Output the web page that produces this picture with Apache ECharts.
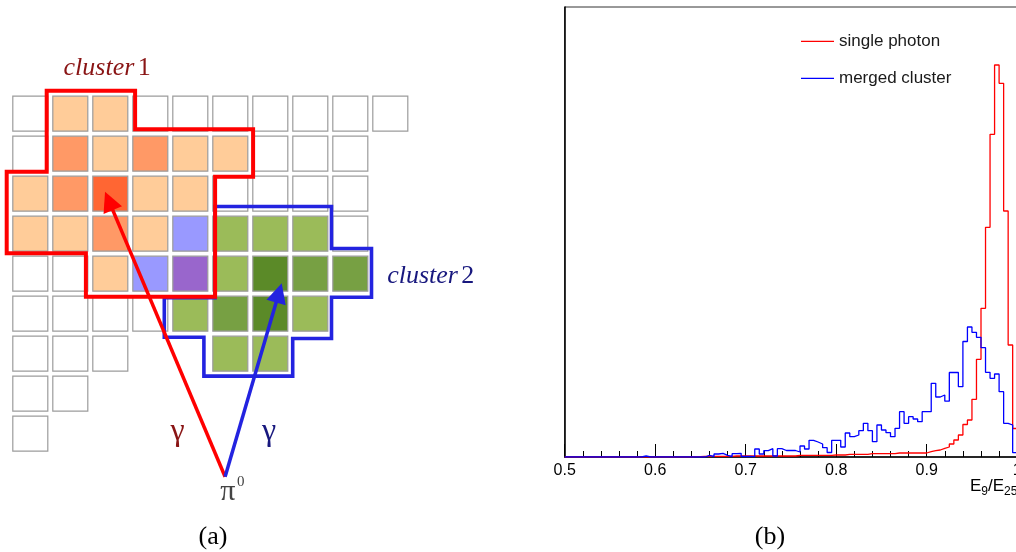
<!DOCTYPE html>
<html>
<head>
<meta charset="utf-8">
<script src="https://cdn.jsdelivr.net/npm/echarts@6/dist/echarts.min.js"></script>
<style>
html,body{margin:0;padding:0;background:#fff;}
#main{width:1016px;height:552px;}
</style>
</head>
<body>
<div id="main"></div>
<script>
// ---------------- Data: histogram (b) ----------------
const binLow = 0.5;
const binWidth = 0.005;
const xTickLabels = ['0.5', '0.6', '0.7', '0.8', '0.9', '1'];
const seriesNames = ['single photon', 'merged cluster'];
const singlePhoton = [
  0, 0, 0, 0, 0, 0, 0, 0, 0, 0,
  0, 0, 0, 0, 0, 0, 0, 0, 0, 0,
  0, 0, 0, 0, 0, 0, 0, 0, 0.3, 0.3,
  0.7, 0.7, 0.7, 0.7, 0.7, 0.7, 0.7, 1, 1, 1,
  1, 1, 1, 1, 1, 1, 1, 1, 1, 1,
  1, 1.7, 1.7, 1.7, 1.7, 1.7, 1.7, 1.7, 1.7, 2,
  2, 2, 2.7, 2.7, 2.7, 2.7, 2.7, 3.3, 3.3, 3.3,
  3.3, 3.3, 3.3, 4, 4, 4, 4, 4, 4, 4,
  5.3, 6.3, 7, 8.7, 10, 13, 17, 22, 32.5, 37,
  57.7, 97.7, 148.7, 229.7, 322.7, 392, 373.7, 246, 112, 28.5
];
const mergedCluster = [
  0, 0, 0, 0, 0, 0, 0, 0, 0, 0,
  0, 0, 0, 0, 0, 0, 0, 1, 0, 0,
  0, 0, 0, 0, 0, 0, 0, 0, 0, 0,
  0, 1.7, 0.5, 3, 3.7, 1.7, 0.5, 3.3, 3.7, 0.5,
  0.5, 0.3, 8, 3, 6.3, 8.3, 1, 8.3, 6.5, 6.5,
  6.5, 5, 11, 8, 16.7, 15, 13, 9.3, 4.5, 16.7,
  16.7, 10, 24, 20.3, 22, 26.3, 33.7, 26.3, 15.3, 32,
  27, 24.3, 20.3, 28.7, 45.3, 33.7, 40.3, 38, 35.3, 45.3,
  45.3, 73.7, 60, 62, 55.8, 84.5, 84.5, 70.3, 115.5, 130,
  124.7, 119.7, 109.3, 84.7, 78.7, 83, 65.3, 33.7, 32, 4.3
];

// ---------------- Data: diagram (a), in cell units [col, row] ----------------
const emptyCells = [[0,0],[3,0],[4,0],[5,0],[6,0],[7,0],[8,0],[9,0],
  [0,1],[6,1],[7,1],[8,1],[5,2],[6,2],[7,2],[8,2],[8,3],
  [0,4],[1,4],[0,5],[1,5],[2,5],[3,5],[0,6],[1,6],[2,6],[0,7],[1,7],[0,8]];
const peachCells = [[1,0],[2,0],[2,1],[4,1],[5,1],[0,2],[3,2],[4,2],[0,3],[1,3],[3,3],[2,4]];
const orangeCells = [[1,1],[3,1],[1,2],[2,3]];
const hotCells = [[2,2]];
const lightBlueCells = [[4,3],[3,4]];
const purpleCells = [[4,4]];
const lightGreenCells = [[5,3],[6,3],[7,3],[5,4],[4,5],[7,5],[5,6],[6,6]];
const midGreenCells = [[7,4],[8,4],[5,5]];
const darkGreenCells = [[6,4],[6,5]];
const cluster1Outline = [[0.91,-0.075],[3.12,-0.075],[3.12,0.89],[6.07,0.89],[6.07,2.075],[5.12,2.075],
  [5.12,5.075],[1.89,5.075],[1.89,3.99],[-0.09,3.99],[-0.09,1.95],[0.91,1.95],[0.91,-0.075]];
const cluster2Outline = [[5.12,2.82],[8.03,2.82],[8.03,3.87],[9.03,3.87],[9.03,5.09],[8.03,5.09],
  [8.03,6.12],[7.06,6.12],[7.06,7.06],[4.84,7.06],[4.84,6.09],[3.85,6.09],[3.85,5.1],[5.12,5.1],[5.12,2.82]];
const photon1 = [[5.37,9.575],[2.465,2.68]];
const photon2 = [[5.37,9.575],[6.715,4.98]];
const diagramTexts = ['cluster', '1', 'cluster', '2', 'γ', 'γ', 'π', '0'];

// ---------------- Build ----------------
function stepData(counts) {
  const d = counts.map((c, k) => [binLow + k * binWidth, c]);
  d.push([binLow + counts.length * binWidth, counts[counts.length - 1]]);
  return d;
}
function cellSeries(cells, color) {
  return {
    type: 'scatter', xAxisIndex: 0, yAxisIndex: 0, symbol: 'rect', symbolSize: 35,
    silent: true, z: 2,
    itemStyle: { color: color, borderColor: '#9c9c9c', borderWidth: 1.2, opacity: 1 },
    emphasis: { disabled: true },
    data: cells.map(c => [c[0] + 0.5, c[1] + 0.5])
  };
}
const serif = '"Liberation Serif", "DejaVu Serif", serif';
const sans = '"Liberation Sans", Arial, sans-serif';
const darkRed = '#8a1515';
const darkBlue = '#18187e';

const textPoints = [
  { value: [2.42, -0.63], label: { formatter: '{i|' + diagramTexts[0] + '} {n|' + diagramTexts[1] + '}', color: darkRed } },
  { value: [10.51, 4.56], label: { formatter: '{i|' + diagramTexts[2] + '} {n|' + diagramTexts[3] + '}', color: darkBlue } },
  { value: [4.18, 8.45], label: { formatter: '{g|' + diagramTexts[4] + '}', color: darkRed } },
  { value: [6.47, 8.45], label: { formatter: '{g|' + diagramTexts[5] + '}', color: darkBlue } },
  { value: [5.44, 9.96], label: { formatter: '{p|' + diagramTexts[6] + '}', color: '#444' } },
  { value: [5.76, 9.70], label: { formatter: '{s|' + diagramTexts[7] + '}', color: '#444' } }
];

const chart = echarts.init(document.getElementById('main'), null, { renderer: 'canvas' });
const option = {
  animation: false,
  backgroundColor: '#fff',
  grid: [
    { left: 0.3, top: 33.7, width: 480, height: 480, show: false, containLabel: false, outerBoundsMode: 'none' },
    { left: 564.7, top: 7, width: 452.5, height: 450, show: true, borderColor: '#333', borderWidth: 1,
      backgroundColor: 'transparent', containLabel: false, outerBoundsMode: 'none' }
  ],
  xAxis: [
    { gridIndex: 0, type: 'value', min: -0.25, max: 11.75, show: false },
    { gridIndex: 1, type: 'value', min: 0.5, max: 1.0, interval: 0.1,
      axisLine: { show: true, onZero: false, lineStyle: { color: '#000', width: 1.5 } },
      axisTick: { show: true, inside: true, length: 13, lineStyle: { color: '#000', width: 1 } },
      minorTick: { show: true, splitNumber: 5, length: 6, lineStyle: { color: '#000', width: 1 } },
      axisLabel: { show: true, margin: 6, fontSize: 16, fontFamily: sans, color: '#000', hideOverlap: false,
        formatter: function (v) { return xTickLabels[Math.round((v - 0.5) / 0.1)]; } },
      splitLine: { show: false }, minorSplitLine: { show: false }
    }
  ],
  yAxis: [
    { gridIndex: 0, type: 'value', min: -1.5, max: 10.5, inverse: true, show: false },
    { gridIndex: 1, type: 'value', min: 0, max: 450,
      axisLine: { show: true, lineStyle: { color: '#000', width: 1.5 } },
      axisTick: { show: false }, axisLabel: { show: false }, splitLine: { show: false } }
  ],
  legend: {
    data: seriesNames, orient: 'vertical', left: 801, top: 31.3, padding: 0,
    icon: 'rect', itemWidth: 33, itemHeight: 1.3, itemGap: 17,
    textStyle: { fontSize: 17, fontFamily: sans, color: '#1a1a1a', lineHeight: 20 },
    selectedMode: false
  },
  series: [
    cellSeries(emptyCells, '#ffffff'),
    cellSeries(peachCells, '#ffcc99'),
    cellSeries(orangeCells, '#ff9966'),
    cellSeries(hotCells, '#ff6633'),
    cellSeries(lightBlueCells, '#9999ff'),
    cellSeries(purpleCells, '#9966cc'),
    cellSeries(lightGreenCells, '#9bbb59'),
    cellSeries(midGreenCells, '#77a043'),
    cellSeries(darkGreenCells, '#5b8a28'),
    { type: 'line', xAxisIndex: 0, yAxisIndex: 0, data: cluster2Outline, symbol: 'none', silent: true, z: 4,
      lineStyle: { color: '#2323e0', width: 3.6, join: 'miter', cap: 'square' } },
    { type: 'line', xAxisIndex: 0, yAxisIndex: 0, data: cluster1Outline, symbol: 'none', silent: true, z: 5,
      lineStyle: { color: '#ff0000', width: 4, join: 'miter', cap: 'square' } },
    { type: 'lines', coordinateSystem: 'cartesian2d', xAxisIndex: 0, yAxisIndex: 0, silent: true, z: 6,
      symbol: ['none', 'triangle'], symbolSize: 20,
      lineStyle: { color: '#ff0000', width: 3.5, opacity: 1, curveness: 0 },
      data: [{ coords: photon1 }] },
    { type: 'lines', coordinateSystem: 'cartesian2d', xAxisIndex: 0, yAxisIndex: 0, silent: true, z: 6,
      symbol: ['none', 'triangle'], symbolSize: 20,
      lineStyle: { color: '#2323e0', width: 3.5, opacity: 1, curveness: 0 },
      data: [{ coords: photon2 }] },
    { type: 'scatter', xAxisIndex: 0, yAxisIndex: 0, symbol: 'circle', symbolSize: 1, silent: true, z: 7,
      itemStyle: { color: 'rgba(0,0,0,0)' },
      label: { show: true, position: 'inside', opacity: 1,
        rich: {
          i: { fontFamily: serif, fontStyle: 'italic', fontSize: 26 },
          n: { fontFamily: serif, fontSize: 26 },
          g: { fontFamily: serif, fontSize: 32 },
          p: { fontFamily: serif, fontSize: 30 },
          s: { fontFamily: serif, fontSize: 15 }
        } },
      data: textPoints },
    { name: seriesNames[0], type: 'line', xAxisIndex: 1, yAxisIndex: 1, step: 'end', symbol: 'none', showSymbol: false,
      z: 3, lineStyle: { color: '#ff0000', width: 1.3 }, itemStyle: { color: '#ff0000' },
      data: stepData(singlePhoton) },
    { name: seriesNames[1], type: 'line', xAxisIndex: 1, yAxisIndex: 1, step: 'end', symbol: 'none', showSymbol: false,
      z: 4, lineStyle: { color: '#0000ff', width: 1.3 }, itemStyle: { color: '#0000ff' },
      data: stepData(mergedCluster) }
  ],
  graphic: [
    { type: 'text', x: 213, y: 537, silent: true,
      style: { text: '(a)', font: '26px ' + serif, fill: '#000', align: 'center', verticalAlign: 'middle' } },
    { type: 'text', x: 770, y: 537, silent: true,
      style: { text: '(b)', font: '26px ' + serif, fill: '#000', align: 'center', verticalAlign: 'middle' } },
    { type: 'text', x: 970, y: 486, silent: true,
      style: { text: '{e|E}{s|9}{e|/E}{s|25}', fill: '#000', align: 'left', verticalAlign: 'middle',
        rich: {
          e: { fontFamily: sans, fontSize: 17, lineHeight: 24, fill: '#000' },
          s: { fontFamily: sans, fontSize: 12, lineHeight: 12, verticalAlign: 'bottom', fill: '#000' }
        } } }
  ]
};
chart.setOption(option);
</script>
</body>
</html>
